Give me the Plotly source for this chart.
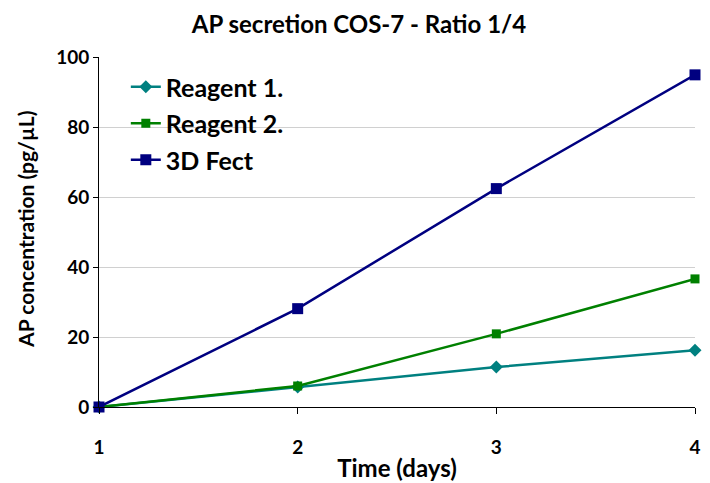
import plotly.graph_objects as go

days = [1, 2, 3, 4]
reagent1 = [0, 5.7, 11.4, 16.2]
reagent2 = [0, 6.0, 20.9, 36.6]
fect3d = [0, 28.1, 62.4, 94.9]
y_ticks = [0, 20, 40, 60, 80, 100]

FONT = "Lato"

fig = go.Figure()
fig.add_trace(go.Scatter(x=days, y=reagent1, name="Reagent 1.", mode="lines+markers",
                         legendgroup="a",
                         line=dict(color="#008080", width=2.5),
                         marker=dict(symbol="diamond", size=10, color="#008080"),
                         cliponaxis=False))
fig.add_trace(go.Scatter(x=days, y=reagent2, name="Reagent 2.", mode="lines+markers",
                         legendgroup="b",
                         line=dict(color="#008000", width=2.5),
                         marker=dict(symbol="square", size=9, color="#008000"),
                         cliponaxis=False))
fig.add_trace(go.Scatter(x=days, y=fect3d, name="3D Fect", mode="lines+markers",
                         legendgroup="c",
                         line=dict(color="#000080", width=2.5),
                         marker=dict(symbol="square", size=11, color="#000080"),
                         cliponaxis=False))

W, H = 702, 475

fig.update_layout(
    width=W, height=H,
    margin=dict(l=91, r=15, t=49, b=76),
    paper_bgcolor="white", plot_bgcolor="white",
    font=dict(family=FONT, color="black"),
    title=dict(text="<b>AP secretion COS-7 - Ratio 1/4</b>", x=0.5, xanchor="center",
               y=1 - 17 / H, yanchor="middle", font=dict(size=24, family=FONT)),
    showlegend=True,
    legend=dict(x=0.045, y=0.98, xanchor="left", yanchor="top",
                font=dict(size=25, family=FONT, weight="bold"),
                bgcolor="rgba(0,0,0,0)", tracegroupgap=1, itemwidth=30,
                traceorder="grouped"),
    xaxis=dict(range=[1, 4], tickvals=days, showgrid=False, showline=True,
               linecolor="black", linewidth=1, ticks="outside", ticklen=6,
               tickcolor="black", tickfont=dict(size=19, family=FONT, weight="bold"),
               ticklabelstandoff=17, zeroline=False, automargin=False,
               title=dict(text="<b>Time (days)</b>", font=dict(size=24, family=FONT), standoff=3)),
    yaxis=dict(range=[0, 100], tickvals=y_ticks, showgrid=True, gridcolor="#d0d0d0",
               gridwidth=1, showline=True, linecolor="black", linewidth=1,
               ticks="outside", ticklen=5, tickcolor="black",
               tickfont=dict(size=19, family=FONT, weight="bold"), zeroline=False,
               automargin=False),
    annotations=[dict(text="<b>AP concentration (pg/µL)</b>", xref="paper", yref="paper",
                      x=0, y=0.506, xshift=-73, xanchor="center", yanchor="middle",
                      textangle=-90, showarrow=False, font=dict(size=21, family=FONT))],
)

fig.write_html("out.html")
